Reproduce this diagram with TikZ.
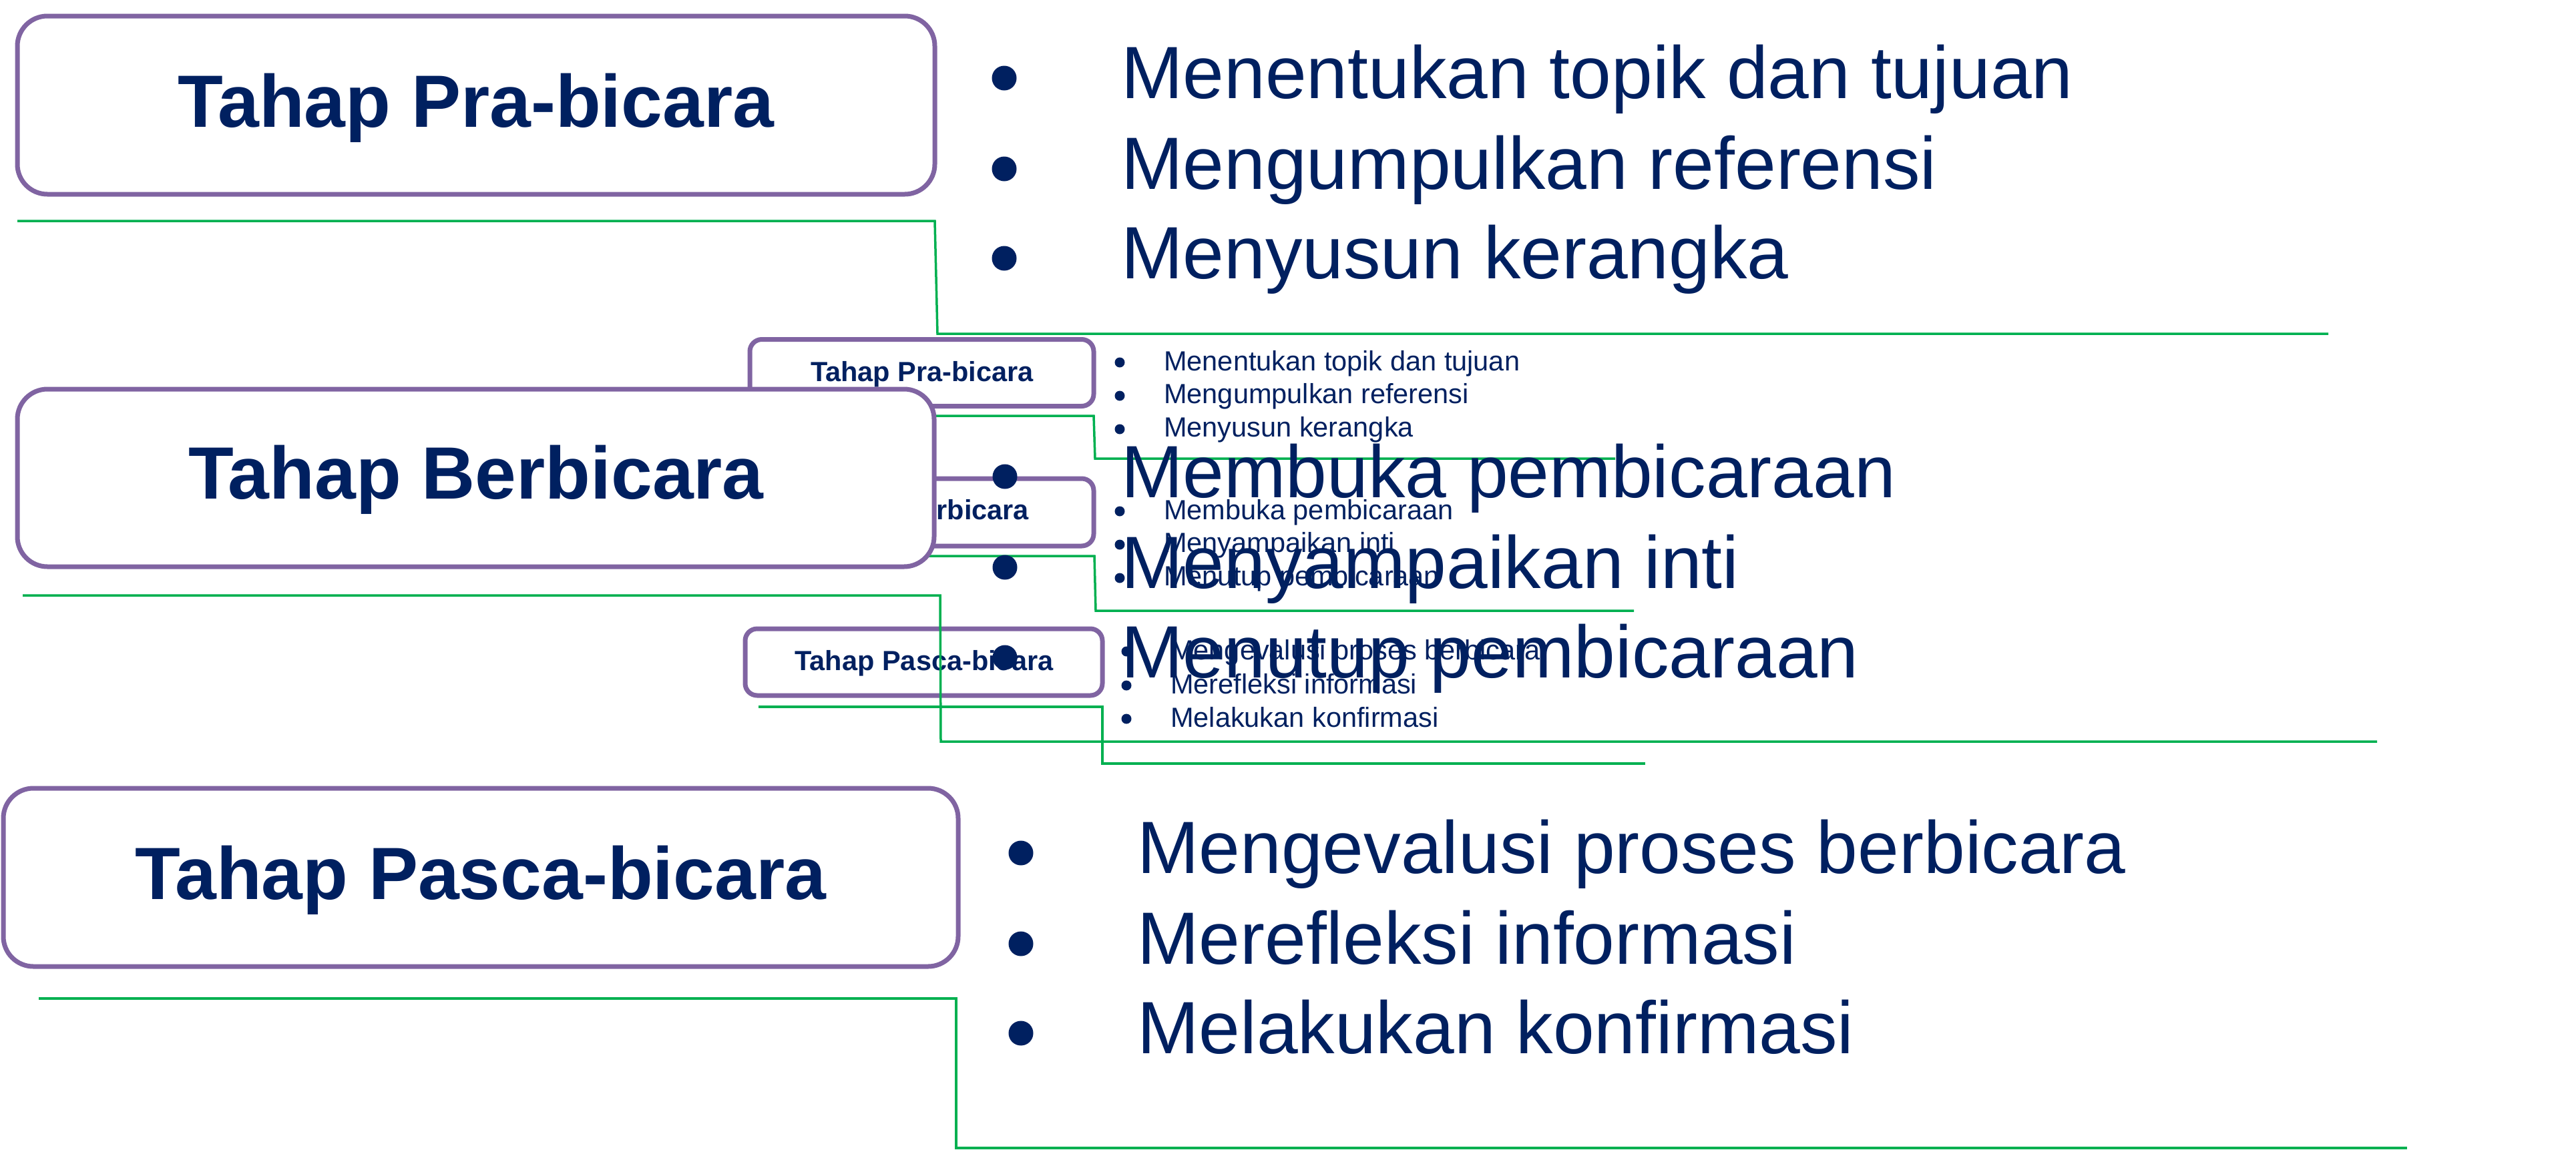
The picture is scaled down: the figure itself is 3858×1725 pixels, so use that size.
\documentclass[tikz,border=0pt]{standalone}
\usepackage{fontspec}
\setmainfont{Liberation Sans}
\definecolor{navy}{HTML}{002060}
\definecolor{boxpurple}{HTML}{8064A2}
\definecolor{lgreen}{HTML}{00B050}
\begin{document}
\begin{tikzpicture}[x=1pt,y=-1pt,
  box/.style={draw=boxpurple, line width=7pt, fill=white, inner sep=0pt, outer sep=0pt},
  bigbox/.style={box, rounded corners=45pt},
  smallbox/.style={box, rounded corners=18pt},
  bigtitle/.style={font=\fontsize{111}{111}\selectfont\bfseries, text=navy, inner sep=0pt, anchor=base},
  bigitem/.style={font=\fontsize{111}{111}\selectfont, text=navy, inner sep=0pt, anchor=base west},
  smalltitle/.style={font=\fontsize{41.5}{41.5}\selectfont\bfseries, text=navy, inner sep=0pt, anchor=base},
  smallitem/.style={font=\fontsize{41.5}{41.5}\selectfont, text=navy, inner sep=0pt, anchor=base west},
  gline/.style={draw=lgreen, line width=3.5pt},
  bigdot/.style={fill=navy},
]
\useasboundingbox (0,0) rectangle (3858,1725);
\fill[white] (0,0) rectangle (3858,1725);

% ---------- small layer ----------
\draw[gline] (1130,623) -- (1638,623) -- (1640,687) -- (2419,687);
\draw[gline] (1130,833) -- (1639,833) -- (1641,915) -- (2447,915);
\draw[gline] (1136,1059) -- (1651,1059) -- (1651,1144) -- (2464,1144);

\node[smallbox, minimum width=515pt, minimum height=100pt] (s1) at (1380.5,558.5) {};
\node[smallbox, minimum width=515pt, minimum height=101pt] (s2) at (1380.5,767.5) {};
\node[smallbox, minimum width=535pt, minimum height=100pt] (s3) at (1383.5,992) {};
\node[smalltitle] (s1t) at (1381,571) {Tahap Pra-bicara};
\node[smalltitle] (s2t) at (1380,778) {Tahap Berbicara};
\node[smalltitle] (s3t) at (1384,1004) {Tahap Pasca-bicara};

\fill[bigdot] (1677,543) circle[radius=7.5pt];
\fill[bigdot] (1677,593) circle[radius=7.5pt];
\fill[bigdot] (1677,643) circle[radius=7.5pt];
\node[smallitem] (s1a) at (1743,555) {Menentukan topik dan tujuan};
\node[smallitem] (s1b) at (1743,604.5) {Mengumpulkan referensi};
\node[smallitem] (s1c) at (1743,654) {Menyusun kerangka};

\fill[bigdot] (1677,766) circle[radius=7.5pt];
\fill[bigdot] (1677,816) circle[radius=7.5pt];
\fill[bigdot] (1677,866) circle[radius=7.5pt];
\node[smallitem] (s2a) at (1743,778) {Membuka pembicaraan};
\node[smallitem] (s2b) at (1743,827.5) {Menyampaikan inti};
\node[smallitem] (s2c) at (1743,877) {Menutup pembicaraan};

\fill[bigdot] (1687,976) circle[radius=7.5pt];
\fill[bigdot] (1687,1027) circle[radius=7.5pt];
\fill[bigdot] (1687,1077) circle[radius=7.5pt];
\node[smallitem] (s3a) at (1753,988) {Mengevalusi proses berbicara};
\node[smallitem] (s3b) at (1753,1039) {Merefleksi informasi};
\node[smallitem] (s3c) at (1753,1089) {Melakukan konfirmasi};

% ---------- big layer ----------
\draw[gline] (26,331) -- (1400,331) -- (1404,500) -- (3487,500);
\draw[gline] (34,892) -- (1408,892) -- (1409,1111) -- (3560,1111);
\draw[gline] (58,1496) -- (1432,1496) -- (1432,1720) -- (3605,1720);

\node[bigbox, minimum width=1374pt, minimum height=267pt] (b1) at (713,157.5) {};
\node[bigbox, minimum width=1373pt, minimum height=266pt] (b2) at (712.5,716) {};
\node[bigbox, minimum width=1430pt, minimum height=267pt] (b3) at (720,1314.5) {};
\node[bigtitle] (b1t) at (713,190) {Tahap Pra-bicara};
\node[bigtitle] (b2t) at (713,747) {Tahap Berbicara};
\node[bigtitle] (b3t) at (720,1347) {Tahap Pasca-bicara};

\fill[bigdot] (1504,117) circle[radius=18.5pt];
\fill[bigdot] (1504,253) circle[radius=18.5pt];
\fill[bigdot] (1504,387) circle[radius=18.5pt];
\node[bigitem] (b1a) at (1679,147) {Menentukan topik dan tujuan};
\node[bigitem] (b1b) at (1679,283) {Mengumpulkan referensi};
\node[bigitem] (b1c) at (1679,417) {Menyusun kerangka};

\fill[bigdot] (1505,714) circle[radius=18.5pt];
\fill[bigdot] (1505,850) circle[radius=18.5pt];
\fill[bigdot] (1505,985) circle[radius=18.5pt];
\node[bigitem] (b2a) at (1679,745) {Membuka pembicaraan};
\node[bigitem] (b2b) at (1679,881) {Menyampaikan inti};
\node[bigitem] (b2c) at (1679,1015) {Menutup pembicaraan};

\fill[bigdot] (1529,1278) circle[radius=18.5pt];
\fill[bigdot] (1529,1414) circle[radius=18.5pt];
\fill[bigdot] (1529,1548) circle[radius=18.5pt];
\node[bigitem] (b3a) at (1703,1308) {Mengevalusi proses berbicara};
\node[bigitem] (b3b) at (1703,1444) {Merefleksi informasi};
\node[bigitem] (b3c) at (1703,1578) {Melakukan konfirmasi};
\end{tikzpicture}
\end{document}
